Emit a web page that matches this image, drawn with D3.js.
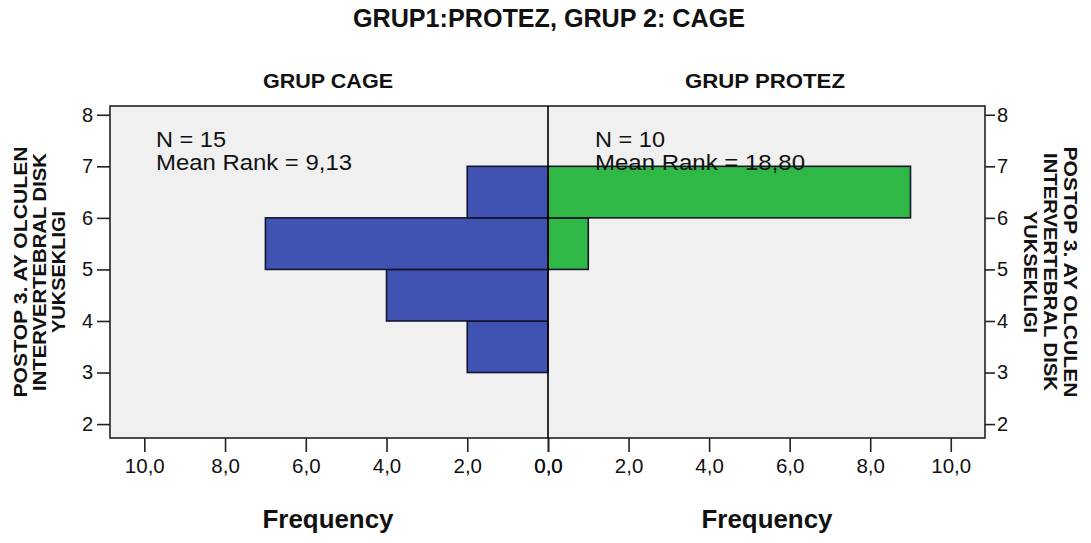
<!DOCTYPE html>
<html><head><meta charset="utf-8">
<script src="https://cdn.jsdelivr.net/npm/d3@7"></script>
<style>
html,body{margin:0;padding:0;background:#fff;}
text{font-family:"Liberation Sans",Arial,sans-serif;fill:#111;}
</style></head>
<body>
<svg id="chart" width="1091" height="543"></svg>
<script>
// ---- data ----
const chartTitle = "GRUP1:PROTEZ, GRUP 2: CAGE";
const panelTitles = ["GRUP CAGE", "GRUP PROTEZ"];
const binLower = [3, 4, 5, 6];          // bins of width 1
const cageFreq = [2, 4, 7, 2];
const protezFreq = [0, 0, 1, 9];
const annN = ["N = 15", "N = 10"];
const annRank = ["Mean Rank = 9,13", "Mean Rank = 18,80"];
const yTicks = [2, 3, 4, 5, 6, 7, 8];
const xTicks = [0, 2, 4, 6, 8, 10];
const yTitleLines = ["POSTOP 3. AY OLCULEN", "INTERVERTEBRAL DISK", "YUKSEKLIGI"];
const xTitle = "Frequency";

// ---- layout ----
const svg = d3.select("#chart");
const L = 110, C = 548, R = 985, T = 106, B = 438;
const xMax = 10.85;
const xLeft = d3.scaleLinear().domain([0, xMax]).range([C, L]);
const xRight = d3.scaleLinear().domain([0, xMax]).range([C, R]);
const y = d3.scaleLinear().domain([1.73, 8.17]).range([B, T]);
const fmt = d => d3.format(".1f")(d).replace(".", ",");

// plot background
svg.append("rect").attr("x", L).attr("y", T).attr("width", R - L).attr("height", B - T)
  .attr("fill", "#f0f0f0");

// bars
function bars(freqs, scale, color) {
  svg.append("g").selectAll("rect")
    .data(binLower.map((b, i) => ({ b, f: freqs[i] })).filter(d => d.f > 0))
    .join("rect")
    .attr("x", d => Math.min(scale(0), scale(d.f)))
    .attr("width", d => Math.abs(scale(d.f) - scale(0)))
    .attr("y", d => y(d.b + 1))
    .attr("height", d => y(d.b) - y(d.b + 1))
    .attr("fill", color)
    .attr("stroke", "#14162e")
    .attr("stroke-width", 1.6);
}
bars(cageFreq, xLeft, "#4153b2");
bars(protezFreq, xRight, "#2fb845");

// frame & centre line
svg.append("rect").attr("x", L).attr("y", T).attr("width", R - L).attr("height", B - T)
  .attr("fill", "none").attr("stroke", "#222").attr("stroke-width", 1.6);
svg.append("line").attr("x1", C).attr("x2", C).attr("y1", T).attr("y2", B)
  .attr("stroke", "#000").attr("stroke-width", 1.6);

// axes
function styleAxis(g, size) {
  g.select(".domain").remove();
  g.selectAll(".tick line").attr("stroke", "#222").attr("stroke-width", 1.6);
  g.selectAll(".tick text").style("font-size", size + "px").attr("fill", "#222");
}
svg.append("g").attr("transform", `translate(${L},0)`)
  .call(d3.axisLeft(y).tickValues(yTicks).tickSize(13).tickPadding(4).tickFormat(d3.format("d")))
  .call(g => styleAxis(g, 20));
svg.append("g").attr("transform", `translate(${R},0)`)
  .call(d3.axisRight(y).tickValues(yTicks).tickSize(10).tickPadding(2).tickFormat(d3.format("d")))
  .call(g => styleAxis(g, 20));
function xAxis(scale) {
  const g = svg.append("g").attr("transform", `translate(0,${B})`)
    .call(d3.axisBottom(scale).tickValues(xTicks).tickSize(14).tickPadding(6).tickFormat(fmt))
    .call(g => styleAxis(g, 20.5));
  g.selectAll(".tick text").attr("dy", "0.71em");
}
xAxis(xLeft);
xAxis(xRight);

// titles
svg.append("text").attr("x", 549).attr("y", 27).attr("text-anchor", "middle")
  .style("font-size", "25px").style("font-weight", "bold")
  .attr("textLength", 392).attr("lengthAdjust", "spacingAndGlyphs").text(chartTitle);
const panelWidths = [130, 160];
panelTitles.forEach((t, i) => {
  svg.append("text").attr("x", [328, 765][i]).attr("y", 88).attr("text-anchor", "middle")
    .style("font-size", "21px").style("font-weight", "bold")
    .attr("textLength", panelWidths[i]).attr("lengthAdjust", "spacingAndGlyphs").text(t);
});

// x titles
[328, 767].forEach(cx => {
  svg.append("text").attr("x", cx).attr("y", 528).attr("text-anchor", "middle")
    .style("font-size", "26px").style("font-weight", "bold")
    .attr("textLength", 131).attr("lengthAdjust", "spacingAndGlyphs").text(xTitle);
});

// y titles (one text element per line)
const yMid = (T + B) / 2;
const lineLens = [251, 238, 122];
yTitleLines.forEach((l, i) => {
  svg.append("text").attr("transform", `translate(${27 + i * 19},${yMid}) rotate(-90)`)
    .attr("text-anchor", "middle").style("font-size", "19px").style("font-weight", "bold")
    .attr("textLength", lineLens[i]).attr("lengthAdjust", "spacingAndGlyphs").text(l);
  svg.append("text").attr("transform", `translate(${1064 - i * 20},${yMid}) rotate(90)`)
    .attr("text-anchor", "middle").style("font-size", "19px").style("font-weight", "bold")
    .attr("textLength", lineLens[i]).attr("lengthAdjust", "spacingAndGlyphs").text(l);
});

// annotations
const annX = [L + 46, C + 47];
const nW = [70, 70], rW = [196, 210];
[0, 1].forEach(i => {
  svg.append("text").attr("x", annX[i]).attr("y", 147).style("font-size", "22px")
    .attr("textLength", nW[i]).attr("lengthAdjust", "spacingAndGlyphs").text(annN[i]);
  svg.append("text").attr("x", annX[i]).attr("y", 170).style("font-size", "22px")
    .attr("textLength", rW[i]).attr("lengthAdjust", "spacingAndGlyphs").text(annRank[i]);
});
</script>
</body></html>
